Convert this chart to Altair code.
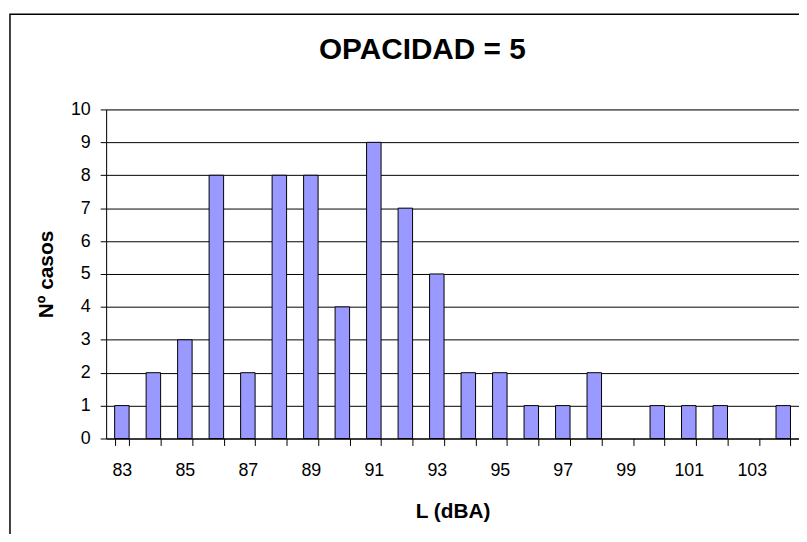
import altair as alt
import pandas as pd

levels = [83, 84, 85, 86, 87, 88, 89, 90, 91, 92, 93, 94, 95, 96, 97, 98, 99, 100, 101, 102, 103, 104]
cases = [1, 2, 3, 8, 2, 8, 8, 4, 9, 7, 5, 2, 2, 1, 1, 2, 0, 1, 1, 1, 0, 1]
y_ticks = list(range(0, 11))
title_text = "OPACIDAD = 5"

df = pd.DataFrame({"L": levels, "n": cases})

FONT = "Liberation Sans"
W, H = 699, 332

x_scale = alt.Scale(domain=levels, paddingInner=0.54, paddingOuter=0.27)
y_scale = alt.Scale(domain=[0, 10], nice=False)

bars = alt.Chart(df).transform_filter("datum.n > 0").mark_bar(
    color="#9999FF", stroke="black", strokeWidth=1
).encode(
    x=alt.X("L:O", scale=x_scale, title="L (dBA)",
            axis=alt.Axis(tickBand="extent", labelAngle=0,
                          labelExpr="datum.value % 2 == 1 ? datum.label : ''",
                          labelOverlap=False,
                          grid=False, domainColor="black", tickColor="black",
                          tickSize=7, labelPadding=16, labelFontSize=18,
                          labelFont=FONT, labelColor="black",
                          titleFont=FONT, titleFontSize=21, titleFontWeight="bold",
                          titleColor="black", titlePadding=22)),
    y=alt.Y("n:Q", scale=y_scale, title="Nº casos",
            axis=alt.Axis(values=y_ticks, format="d", grid=True, gridColor="black", gridWidth=1,
                          domainColor="black", tickColor="black", tickSize=6,
                          labelPadding=10, labelFontSize=18, labelFont=FONT,
                          labelColor="black", titleFont=FONT, titleFontSize=21,
                          titleFontWeight="bold", titleColor="black", titlePadding=14)),
)

frame = alt.Chart(pd.DataFrame({"k": [0]})).mark_rect(
    filled=False, stroke="black", strokeWidth=1.5
).encode(
    x=alt.value(-97), x2=alt.value(W + 200), y=alt.value(-96), y2=alt.value(H + 200)
)

title = alt.Chart(pd.DataFrame({"t": [title_text]})).mark_text(
    font=FONT, fontSize=30, fontWeight="bold", color="black", align="center", baseline="alphabetic"
).encode(x=alt.value(319), y=alt.value(-51), text="t:N")

chart = alt.layer(bars, frame, title).properties(
    width=W, height=H,
    autosize=alt.AutoSizeParams(type="none"),
    padding={"left": 99, "top": 100, "right": 0, "bottom": 94},
).configure_view(stroke="#808080", strokeWidth=1.5).configure(background="white")

chart.save("out.html", embed_options={"renderer": "svg", "actions": False})
